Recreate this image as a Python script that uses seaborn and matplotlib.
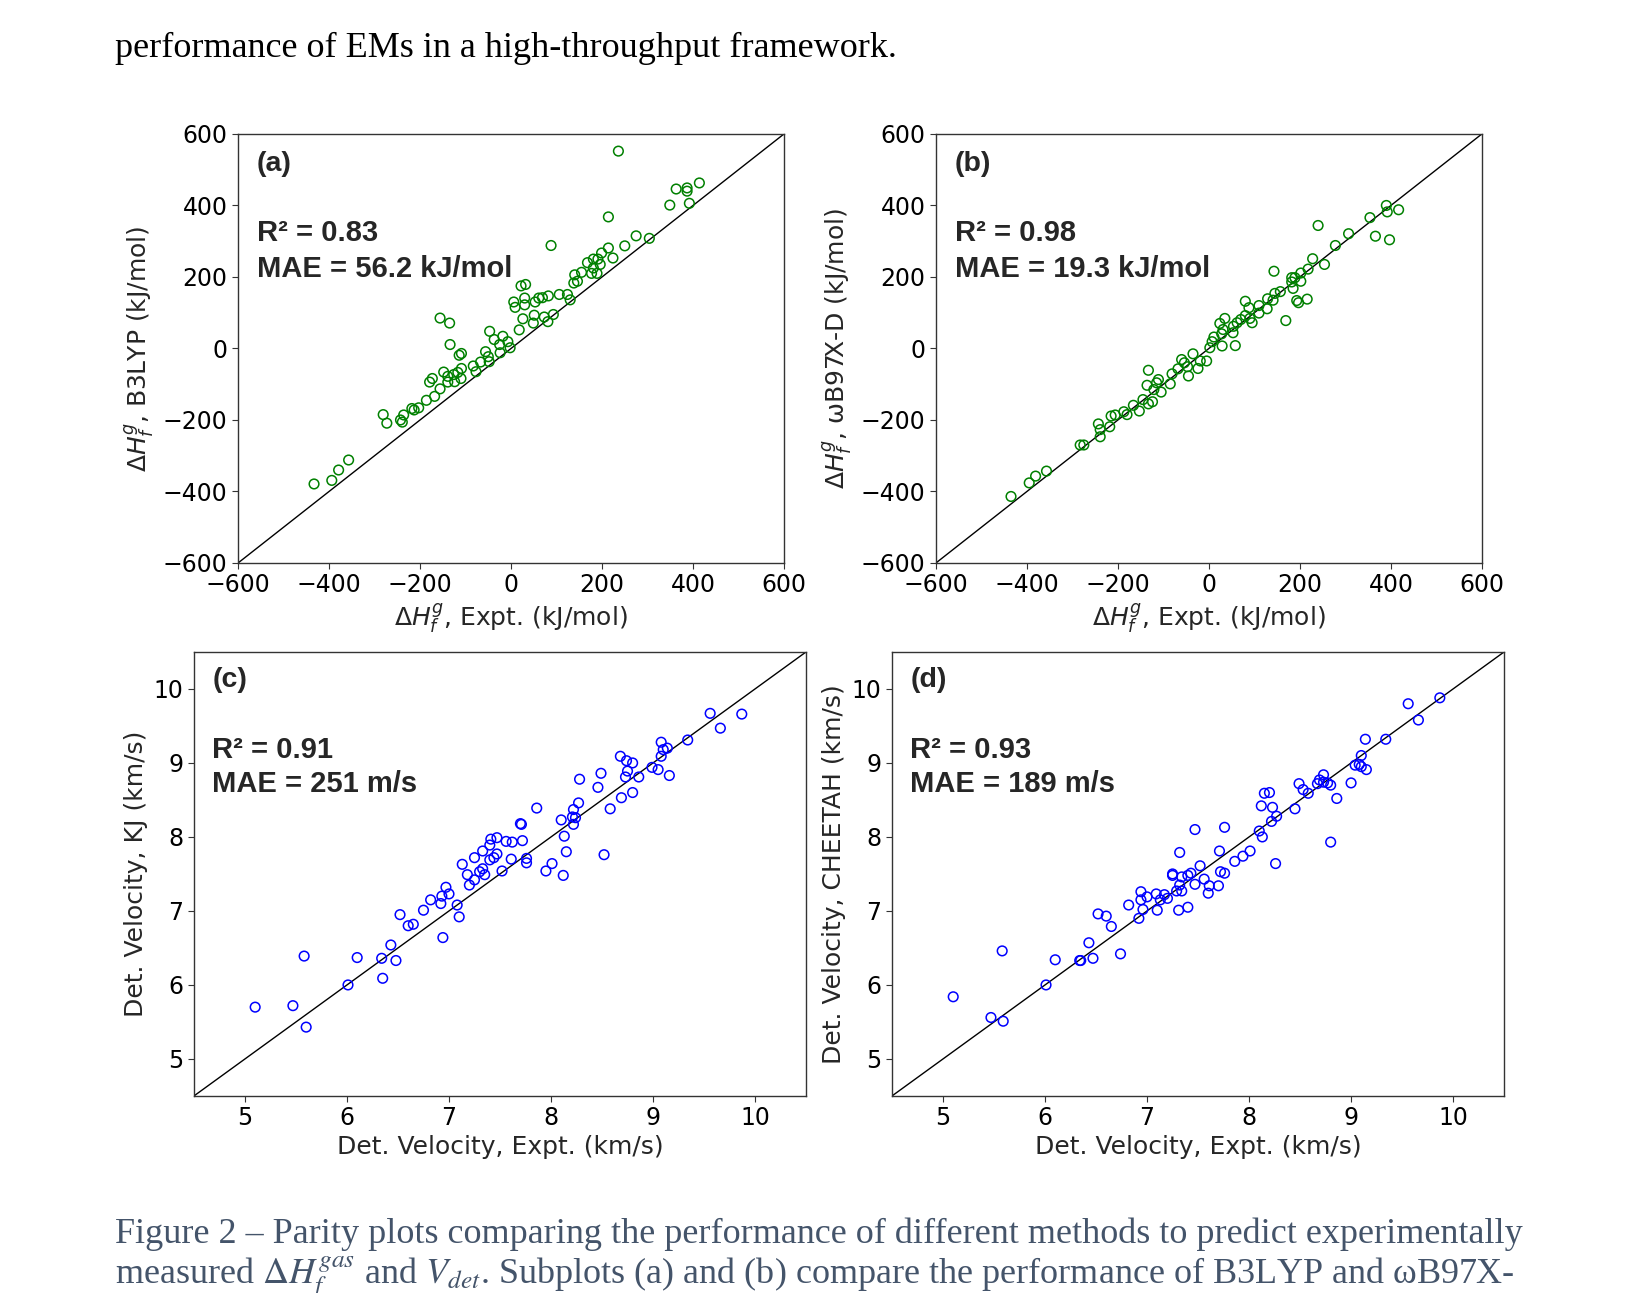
import matplotlib
matplotlib.use("Agg")
import matplotlib.pyplot as plt
import seaborn as sns
import numpy as np

# ---------------- data ----------------
a_expt = [236, 414, 363, 387, 387, 349, 392, 214, 275, 304, 88, 250, 214, 199, 224, 168, 181, 191, 196, 181,
          177, 189, 155, 140, 138, 146, 22, 32, 6, 9, 30, 30, 53, 61, 69, 82, 106, 124, 130, 26,
          18, 51, 49, 73, 81, 93, -156, -135, -134, -47, -37, -18, -25, -7, -2, -24, -114, -109, -56, -50,
          -48, -67, -83, -77, -148, -139, -126, -117, -109, -110, -139, -124, -173, -179, -156, -168, -186, -203, -218, -213,
          -236, -281, -273, -243, -239, -357, -379, -394, -433]
a_b3lyp = [552, 463, 446, 449, 440, 401, 406, 368, 315, 308, 288, 287, 281, 267, 253, 240, 250, 250, 235, 225,
           210, 210, 213, 206, 183, 188, 175, 179, 130, 115, 141, 122, 130, 141, 142, 147, 151, 151, 136, 83,
           52, 93, 71, 88, 75, 95, 85, 71, 11, 48, 25, 34, 11, 19, 2, -12, -19, -14, -9, -23,
           -37, -38, -49, -65, -66, -78, -73, -67, -56, -84, -94, -93, -84, -94, -113, -134, -145, -166, -168, -172,
           -186, -185, -209, -200, -206, -312, -340, -369, -379]

b_expt = [390, 417, 392, 354, 240, 307, 366, 397, 278, 228, 254, 218, 143, 202, 182, 189, 182, 202, 185, 193,
          197, 216, 157, 145, 129, 141, 110, 128, 110, 80, 88, 80, 90, 95, 169, 70, 62, 54, 53, 35,
          24, 31, 28, 11, 7, 2, 29, 58, -35, -60, -54, -47, -45, -19, -5, -24, -68, -81, -85, -133,
          -111, -115, -136, -121, -105, -145, -133, -124, -166, -153, -180, -187, -206, -215, -243, -239, -218, -239, -283, -275,
          -357, -381, -395, -435]
b_wb97xd = [400, 388, 382, 366, 344, 321, 314, 304, 288, 251, 235, 222, 216, 211, 198, 198, 186, 188, 168, 134,
            128, 138, 159, 154, 139, 135, 120, 111, 99, 132, 114, 92, 84, 72, 78, 81, 72, 62, 44, 84,
            70, 53, 41, 32, 19, 2, 7, 8, -15, -31, -40, -51, -77, -35, -35, -56, -57, -71, -99, -61,
            -87, -96, -103, -115, -122, -143, -155, -149, -159, -175, -185, -177, -186, -189, -211, -227, -219, -247, -270, -270,
            -343, -357, -376, -414]

c_expt = [9.56, 9.87, 9.66, 9.34, 9.08, 9.10, 9.14, 9.08, 8.68, 8.74, 8.80, 8.99, 9.05, 8.75, 8.73, 8.86, 9.16, 8.49, 8.28, 8.46,
          8.80, 8.69, 8.27, 8.58, 8.22, 8.21, 8.24, 8.10, 8.22, 7.86, 7.71, 8.13, 8.15, 8.52, 8.01, 7.95, 8.12, 7.72, 7.62, 7.56,
          7.47, 7.41, 7.40, 7.61, 7.76, 7.76, 7.47, 7.44, 7.40, 7.33, 7.25, 7.13, 7.33, 7.30, 7.35, 7.18, 7.52, 7.25, 7.20, 6.97,
          6.93, 7.00, 6.92, 6.82, 7.08, 7.10, 6.75, 6.52, 6.60, 6.65, 6.94, 6.43, 6.34, 6.48, 6.10, 5.58, 6.35, 6.01, 5.10, 5.47,
          5.60, 7.70]
c_kj = [9.67, 9.66, 9.47, 9.31, 9.28, 9.18, 9.20, 9.09, 9.09, 9.03, 9.00, 8.94, 8.91, 8.89, 8.81, 8.81, 8.83, 8.86, 8.78, 8.67,
        8.60, 8.53, 8.46, 8.38, 8.37, 8.27, 8.26, 8.23, 8.17, 8.39, 8.17, 8.01, 7.80, 7.76, 7.64, 7.54, 7.48, 7.95, 7.93, 7.94,
        7.99, 7.97, 7.89, 7.70, 7.71, 7.65, 7.77, 7.72, 7.69, 7.81, 7.72, 7.63, 7.57, 7.53, 7.49, 7.49, 7.54, 7.42, 7.35, 7.32,
        7.20, 7.23, 7.10, 7.15, 7.08, 6.92, 7.01, 6.95, 6.80, 6.82, 6.64, 6.54, 6.36, 6.33, 6.37, 6.39, 6.09, 6.00, 5.70, 5.72,
        5.43, 8.18]

d_expt = [9.87, 9.56, 9.66, 9.14, 9.34, 9.10, 9.04, 9.08, 9.10, 9.15, 8.73, 8.69, 8.73, 8.80, 8.67, 8.77, 9.00, 8.49, 8.53, 8.58,
          8.86, 8.15, 8.20, 8.12, 8.23, 8.45, 8.27, 8.22, 8.10, 8.13, 8.80, 7.47, 7.76, 7.71, 8.01, 7.94, 7.86, 8.26, 7.32, 7.52,
          7.72, 7.76, 7.43, 7.40, 7.25, 7.25, 7.34, 7.56, 7.61, 7.70, 7.47, 7.32, 7.34, 7.29, 7.60, 7.17, 7.20, 7.09, 7.13, 7.00,
          6.94, 6.94, 6.96, 7.10, 7.31, 7.40, 6.82, 6.92, 6.52, 6.60, 6.65, 6.43, 6.74, 6.47, 6.34, 6.35, 6.10, 5.58, 6.01, 5.10,
          5.47, 5.59]
d_cheetah = [9.88, 9.80, 9.58, 9.32, 9.32, 9.10, 8.97, 8.98, 8.95, 8.91, 8.84, 8.77, 8.74, 8.70, 8.72, 8.73, 8.73, 8.72, 8.64, 8.59,
             8.52, 8.59, 8.60, 8.42, 8.40, 8.38, 8.28, 8.21, 8.08, 8.00, 7.93, 8.10, 8.13, 7.81, 7.81, 7.74, 7.67, 7.64, 7.79, 7.61,
             7.53, 7.51, 7.51, 7.48, 7.50, 7.48, 7.46, 7.43, 7.34, 7.34, 7.36, 7.35, 7.27, 7.27, 7.24, 7.22, 7.17, 7.23, 7.15, 7.19,
             7.26, 7.15, 7.02, 7.01, 7.01, 7.05, 7.08, 6.90, 6.96, 6.93, 6.79, 6.57, 6.42, 6.36, 6.33, 6.33, 6.34, 6.46, 6.00, 5.84,
             5.56, 5.51]

enth_ticks = [-600, -400, -200, 0, 200, 400, 600]
vel_ticks = [5, 6, 7, 8, 9, 10]

panel_labels = ["(a)", "(b)", "(c)", "(d)"]
r2_texts = ["R\u00b2 = 0.83", "R\u00b2 = 0.98", "R\u00b2 = 0.91", "R\u00b2 = 0.93"]
mae_texts = ["MAE = 56.2 kJ/mol", "MAE = 19.3 kJ/mol", "MAE = 251 m/s", "MAE = 189 m/s"]
x_labels = [r"$\Delta H_f^g$, Expt. (kJ/mol)", r"$\Delta H_f^g$, Expt. (kJ/mol)",
            "Det. Velocity, Expt. (km/s)", "Det. Velocity, Expt. (km/s)"]
y_labels = [r"$\Delta H_f^g$, B3LYP (kJ/mol)", r"$\Delta H_f^g$, ωB97X-D (kJ/mol)",
            "Det. Velocity, KJ (km/s)", "Det. Velocity, CHEETAH (km/s)"]

top_text = "performance of EMs in a high-throughput framework."
caption_1 = "Figure 2 \u2013 Parity plots comparing the performance of different methods to predict experimentally"
caption_2 = r"measured $\Delta H_f^{gas}$ and $V_{det}$. Subplots (a) and (b) compare the performance of B3LYP and ωB97X-"

# ---------------- style ----------------
sns.set_style("ticks")
plt.rcParams["font.family"] = ["DejaVu Sans"]
plt.rcParams["axes.linewidth"] = 1.0
plt.rcParams["xtick.major.size"] = 4
plt.rcParams["ytick.major.size"] = 4
plt.rcParams["xtick.color"] = "#333333"
plt.rcParams["ytick.color"] = "#333333"

fig = plt.figure(figsize=(16.34, 12.93), dpi=100)
fig.patch.set_facecolor("white")

positions = [
    [0.1457, 0.5646, 0.3341, 0.3318],
    [0.5728, 0.5646, 0.3341, 0.3318],
    [0.1187, 0.1524, 0.3746, 0.3434],
    [0.5459, 0.1524, 0.3746, 0.3434],
]
datasets = [(a_expt, a_b3lyp, "green"), (b_expt, b_wb97xd, "green"),
            (c_expt, c_kj, "blue"), (d_expt, d_cheetah, "blue")]

for i, (pos, (xv, yv, col)) in enumerate(zip(positions, datasets)):
    ax = fig.add_axes(pos)
    if i < 2:
        lo, hi, ticks = -600, 600, enth_ticks
    else:
        lo, hi, ticks = 4.5, 10.5, vel_ticks
    ax.plot([lo, hi], [lo, hi], color="black", lw=1.0, zorder=1)
    sns.scatterplot(x=np.array(xv, dtype=float), y=np.array(yv, dtype=float), ax=ax,
                    marker="o", facecolor="none", edgecolor=col, s=48, linewidth=1.1, zorder=2)
    ax.set_xlim(lo, hi)
    ax.set_ylim(lo, hi)
    ax.set_xticks(ticks)
    ax.set_yticks(ticks)
    ax.tick_params(labelsize=17, labelcolor="black")
    for sp in ax.spines.values():
        sp.set_visible(True)
        sp.set_color("#333333")
    ax.set_xlabel(x_labels[i], fontsize=18, labelpad=3)
    ax.set_ylabel(y_labels[i], fontsize=18)
    if i < 2:
        ty = [0.931, 0.769, 0.686]
        tx = 0.034
    else:
        ty = [0.936, 0.779, 0.703]
        tx = 0.030
    ax.text(tx, ty[0], panel_labels[i], transform=ax.transAxes, fontsize=20.5, fontweight="bold",
            family="Liberation Sans", va="center", ha="left")
    ax.text(tx, ty[1], r2_texts[i], transform=ax.transAxes, fontsize=21, fontweight="bold",
            family="Liberation Sans", va="center", ha="left")
    ax.text(tx, ty[2], mae_texts[i], transform=ax.transAxes, fontsize=21, fontweight="bold",
            family="Liberation Sans", va="center", ha="left")

x0 = 110 * 1.042 / 1634
fig.text(x0, 1 - 57 / 1293, top_text, family="Liberation Serif", fontsize=26,
         va="baseline", ha="left", color="black")
fig.text(x0, 1 - 1243 / 1293, caption_1, family="Liberation Serif", fontsize=26,
         va="baseline", ha="left", color="#44546A")
fig.text(x0, 1 - 1284 / 1293, caption_2, family="Liberation Serif", fontsize=26,
         va="baseline", ha="left", color="#44546A", math_fontfamily="stix")

fig.savefig("out.png", dpi=100, facecolor="white")
